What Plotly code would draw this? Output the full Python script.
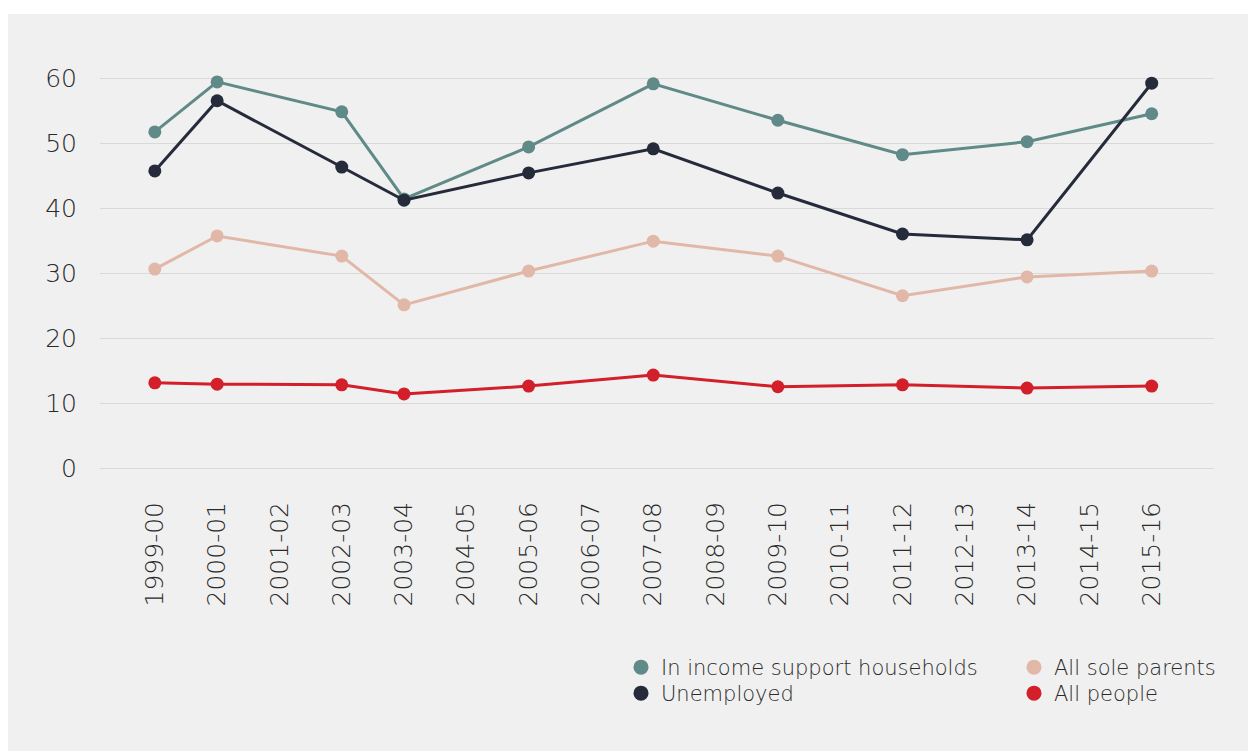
import plotly.graph_objects as go

categories = ["1999-00", "2000-01", "2001-02", "2002-03", "2003-04", "2004-05", "2005-06",
              "2006-07", "2007-08", "2008-09", "2009-10", "2010-11", "2011-12", "2012-13",
              "2013-14", "2014-15", "2015-16"]
survey_years = ["1999-00", "2000-01", "2002-03", "2003-04", "2005-06", "2007-08",
                "2009-10", "2011-12", "2013-14", "2015-16"]
income_support = [51.7, 59.4, 54.8, 41.4, 49.4, 59.1, 53.5, 48.2, 50.2, 54.5]
unemployed = [45.7, 56.5, 46.3, 41.2, 45.4, 49.1, 42.3, 36.0, 35.1, 59.2]
sole_parents = [30.6, 35.7, 32.6, 25.1, 30.3, 34.9, 32.6, 26.5, 29.4, 30.3]
all_people = [13.1, 12.9, 12.8, 11.4, 12.6, 14.3, 12.5, 12.8, 12.3, 12.6]
y_ticks = [0, 10, 20, 30, 40, 50, 60]

W, H = 1248, 743
L, R, T, B = 92, 42, 57, 283
pw, ph = W - L - R, H - T - B

FONT = "DejaVu Sans"
TXT = "#2a2a2a"
BG = "#f0f0f0"

series = [
    ("In income support households", income_support, "#5f8a87", "legend", 613, 639),
    ("All sole parents", sole_parents, "#e1b8a7", "legend2", 1006, 639),
    ("Unemployed", unemployed, "#252b3b", "legend3", 613, 665),
    ("All people", all_people, "#d21f2a", "legend4", 1006, 665),
]

def px_to_paper_x(px):
    return (px - L) / pw

def px_to_paper_y(py):
    return (H - B - py) / ph

fig = go.Figure()
for name, vals, col, lg, lx, ly in series:
    fig.add_trace(go.Scatter(
        x=survey_years, y=vals, name=name, mode="lines+markers",
        line=dict(color=col, width=3), marker=dict(color=col, size=13),
        showlegend=False, cliponaxis=False,
    ))
for name, vals, col, lg, lx, ly in series:
    fig.add_trace(go.Scatter(
        x=[None], y=[None], name=name, mode="markers",
        marker=dict(color=col, size=15), legend=lg, showlegend=True,
    ))

fig.add_shape(type="rect", xref="paper", yref="paper", layer="below",
              x0=px_to_paper_x(0), x1=px_to_paper_x(W + 5),
              y0=px_to_paper_y(H + 5), y1=px_to_paper_y(6),
              fillcolor=BG, line=dict(width=0))

legfont = dict(size=21, color=TXT, family=FONT, weight=300)
legends = {}
for name, vals, col, lg, lx, ly in series:
    legends[lg] = dict(x=px_to_paper_x(lx), y=px_to_paper_y(ly), xanchor="left",
                       yanchor="top", bgcolor="rgba(0,0,0,0)", font=legfont, itemwidth=30)

fig.update_layout(
    width=W, height=H,
    margin=dict(l=L, r=R, t=T, b=B),
    paper_bgcolor="white", plot_bgcolor=BG,
    font=dict(family=FONT, color=TXT, size=20, weight=300),
    showlegend=True,
    **legends,
    xaxis=dict(type="category", categoryorder="array", categoryarray=categories,
               tickmode="array", tickvals=categories, ticktext=categories,
               range=[-0.88, 17.0], tickangle=-90, showgrid=False, zeroline=False,
               showline=False, ticks="", ticklabelstandoff=28,
               tickfont=dict(size=25, color=TXT, family=FONT, weight=300)),
    yaxis=dict(range=[0, 62], tickvals=y_ticks, showgrid=True, gridcolor="#d9d9d9",
               gridwidth=1, zeroline=True, zerolinecolor="#d9d9d9", zerolinewidth=1,
               showline=False, ticks="", ticklabelstandoff=22,
               tickfont=dict(size=25, color=TXT, family=FONT, weight=300)),
)

fig.write_html("out.html")
